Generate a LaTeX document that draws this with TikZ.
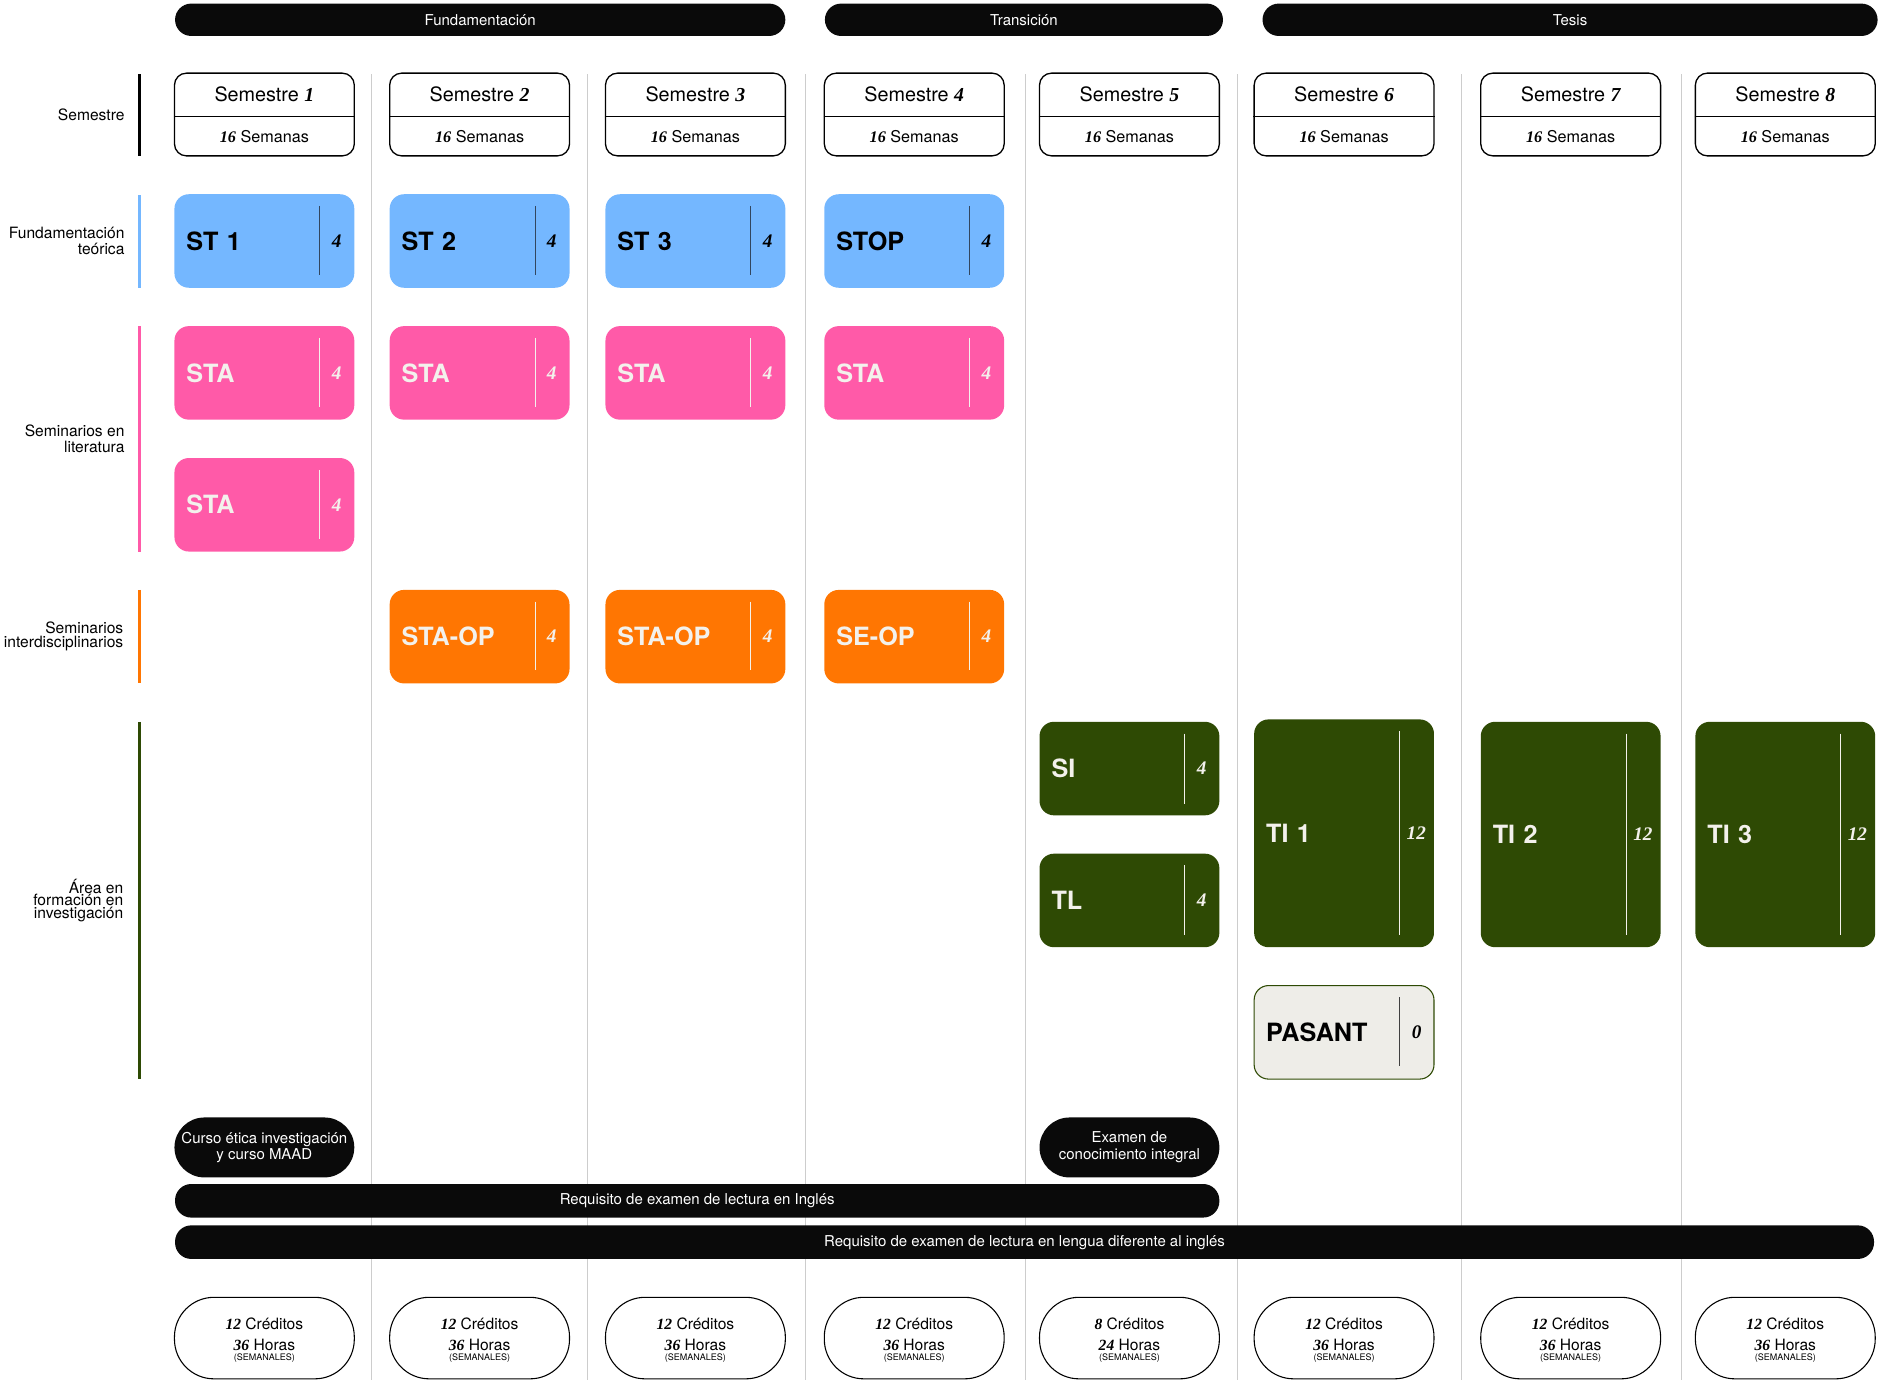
\documentclass[tikz,border=0pt]{standalone}
\usepackage{fontspec}
\setsansfont{TeX Gyre Heros}
\renewcommand{\familydefault}{\sfdefault}
\newfontfamily\numfont{Liberation Serif}
\usepackage{tikz}
\usetikzlibrary{positioning}
\usepackage{xcolor}
\definecolor{barblack}{RGB}{10,10,10}
\definecolor{sepgray}{RGB}{205,205,205}
\definecolor{stblue}{RGB}{116,183,255}
\definecolor{stapink}{RGB}{255,90,168}
\definecolor{oporange}{RGB}{255,118,2}
\definecolor{invgreen}{RGB}{46,74,4}
\definecolor{pasantfill}{RGB}{238,237,232}
\definecolor{offwhite}{RGB}{243,241,236}
\definecolor{darkrule}{RGB}{50,70,95}
\newcommand{\itnum}[1]{{\numfont\bfseries\itshape #1}}
\newcommand{\semnum}[1]{{\numfont\bfseries\itshape #1}}
\tikzstyle{phase} = [rectangle, rounded corners=13.5pt, fill=barblack, text=white, minimum height=27pt, inner sep=0pt, font=\fontsize{12.5}{14}\selectfont]
\tikzstyle{semester} = [rectangle, rounded corners=10pt, draw=black, line width=1.1pt, fill=white, minimum width=150pt, minimum height=69pt, inner sep=0pt]
\tikzstyle{semtitle} = [inner sep=0pt, font=\fontsize{16.5}{18}\selectfont]
\tikzstyle{semweeks} = [inner sep=0pt, font=\fontsize{13.5}{15}\selectfont]
\tikzstyle{course} = [rectangle, rounded corners=12pt, minimum height=78pt, text width=130pt, inner xsep=10pt, inner ysep=0pt, align=left, font=\fontsize{21}{24}\selectfont\bfseries]
\tikzstyle{credit} = [inner sep=0pt, font=\fontsize{16}{16}\selectfont]
\tikzstyle{divider} = [line width=0.8pt]
\tikzstyle{rowlabel} = [anchor=east, align=right, inner sep=0pt, font=\fontsize{13}{14}\selectfont]
\tikzstyle{catline} = [line width=2.4pt]
\tikzstyle{sepline} = [line width=0.8pt, color=sepgray]
\tikzstyle{pill} = [rectangle, rounded corners=25pt, fill=barblack, text=white, minimum width=150pt, minimum height=50pt, inner sep=0pt, align=center, font=\fontsize{12.5}{14}\selectfont]
\tikzstyle{reqbar} = [rectangle, rounded corners=13.5pt, fill=barblack, text=white, minimum height=28pt, inner sep=0pt, font=\fontsize{12.5}{14}\selectfont]
\tikzstyle{total} = [rectangle, rounded corners=33pt, draw=black, line width=0.9pt, fill=white, minimum width=150pt, minimum height=68pt, inner sep=0pt]
\tikzstyle{totline} = [inner sep=0pt, font=\fontsize{13}{14}\selectfont]
\tikzstyle{totsmall} = [inner sep=0pt, font=\fontsize{7.5}{8}\selectfont]

\begin{document}
\begin{tikzpicture}[x=1pt, y=-1pt]
\useasboundingbox (0,0) rectangle (1568,1151);

% column separators
\foreach \sx in {310,490,672,855,1032,1219,1402}
  \draw [sepline] (\sx,62) -- (\sx,1151);

% phases
\node (fund) [phase, minimum width=509pt] at (400.5,16.5) {Fundamentación};
\node (trans) [phase, minimum width=332pt] at (854,16.5) {Transición};
\node (tesis) [phase, minimum width=513pt] at (1309.5,16.5) {Tesis};

% row labels
\node (lab-sem) [rowlabel] at (104,96) {Semestre};
\node (lab-fund) [rowlabel] at (104,201) {Fundamentación\\teórica};
\node (lab-lit) [rowlabel] at (104,366) {Seminarios en\\literatura};
\node (lab-inter) [rowlabel, font=\fontsize{13}{12}\selectfont] at (103,531) {Seminarios\\interdisciplinarios};
\node (lab-inv) [rowlabel, font=\fontsize{13}{10.5}\selectfont] at (103,751) {Área en\\formación en\\investigación};

\draw [catline, color=black] (116,62) -- (116,130);
\draw [catline, color=stblue] (116,163) -- (116,240);
\draw [catline, color=stapink] (116,272) -- (116,460);
\draw [catline, color=oporange] (116,492) -- (116,570);
\draw [catline, color=invgreen] (116,602) -- (116,900);

% semesters
\foreach \i/\cx in {1/220.5,2/400,3/580,4/762.5,5/942,6/1121,7/1310,8/1489}{
  \node (sem\i) [semester] at (\cx,95.5) {};
  \draw [line width=1.1pt] ([yshift=-1.5pt]sem\i.west) -- ([yshift=-1.5pt]sem\i.east);
  \node (sem\i-t) [semtitle] at (\cx,79) {Semestre \semnum{\i}};
  \node (sem\i-w) [semweeks] at (\cx,114) {\itnum{16} Semanas};
}

% fundamentacion teorica
\foreach \nm/\cx/\txt in {st1/220.5/ST 1,st2/400/ST 2,st3/580/ST 3,stop/762.5/STOP}{
  \node (\nm) [course, fill=stblue, text=black] at (\cx,201) {\txt};
  \draw [divider, color=darkrule] ([xshift=-29pt,yshift=-10pt]\nm.north east) -- ([xshift=-29pt,yshift=11pt]\nm.south east);
  \node (\nm-cr) [credit, text=black] at ([xshift=-15pt]\nm.east) {\itnum{4}};
}

% seminarios en literatura
\foreach \nm/\cx/\cy in {sta1/220.5/311,sta2/400/311,sta3/580/311,sta4/762.5/311,sta5/220.5/421}{
  \node (\nm) [course, fill=stapink, text=offwhite] at (\cx,\cy) {STA};
  \draw [divider, color=offwhite] ([xshift=-29pt,yshift=-10pt]\nm.north east) -- ([xshift=-29pt,yshift=11pt]\nm.south east);
  \node (\nm-cr) [credit, text=offwhite] at ([xshift=-15pt]\nm.east) {\itnum{4}};
}

% seminarios interdisciplinarios
\foreach \nm/\cx/\txt in {staop2/400/STA-OP,staop3/580/STA-OP,seop/762.5/SE-OP}{
  \node (\nm) [course, fill=oporange, text=offwhite] at (\cx,531) {\txt};
  \draw [divider, color=offwhite] ([xshift=-29pt,yshift=-10pt]\nm.north east) -- ([xshift=-29pt,yshift=11pt]\nm.south east);
  \node (\nm-cr) [credit, text=offwhite] at ([xshift=-15pt]\nm.east) {\itnum{4}};
}

% area de investigacion
\foreach \nm/\cx/\cy/\bh/\txt/\cr in {si/942/641/78/SI/4,tl/942/751/78/TL/4,ti1/1121/695/190/TI 1/12,ti2/1310/696/188/TI 2/12,ti3/1489/696/188/TI 3/12}{
  \node (\nm) [course, fill=invgreen, text=offwhite, minimum height=\bh pt] at (\cx,\cy) {\txt};
  \draw [divider, color=offwhite] ([xshift=-29pt,yshift=-10pt]\nm.north east) -- ([xshift=-29pt,yshift=10pt]\nm.south east);
  \node (\nm-cr) [credit, text=offwhite] at ([xshift=-15pt]\nm.east) {\itnum{\cr}};
}

\node (pasant) [course, fill=pasantfill, draw=invgreen, line width=0.9pt, text=black] at (1121,861) {PASANT};
\draw [divider, color=black!75] ([xshift=-29pt,yshift=-10pt]pasant.north east) -- ([xshift=-29pt,yshift=11pt]pasant.south east);
\node (pasant-cr) [credit, text=black] at ([xshift=-15pt]pasant.east) {\itnum{0}};

% requisitos
\node (etica) [pill] at (220.5,957) {Curso ética investigación\\y curso MAAD};
\node (examen) [pill] at (942,957) {Examen de\\conocimiento integral};
\node (ingles) [reqbar, minimum width=871pt] at (581.5,1001.5) {Requisito de examen de lectura en Inglés};
\node (lengua) [reqbar, minimum width=1417pt] at (854.5,1036) {Requisito de examen de lectura en lengua diferente al inglés};

% totales
\foreach \i/\cx/\cr/\hr in {1/220.5/12/36,2/400/12/36,3/580/12/36,4/762.5/12/36,5/942/8/24,6/1121/12/36,7/1310/12/36,8/1489/12/36}{
  \node (tot\i) [total] at (\cx,1116) {};
  \node (tot\i-c) [totline] at (\cx,1104) {\itnum{\cr} Créditos};
  \node (tot\i-h) [totline] at (\cx,1122) {\itnum{\hr} Horas};
  \node (tot\i-s) [totsmall] at (\cx,1133) {(SEMANALES)};
}
\end{tikzpicture}
\end{document}
